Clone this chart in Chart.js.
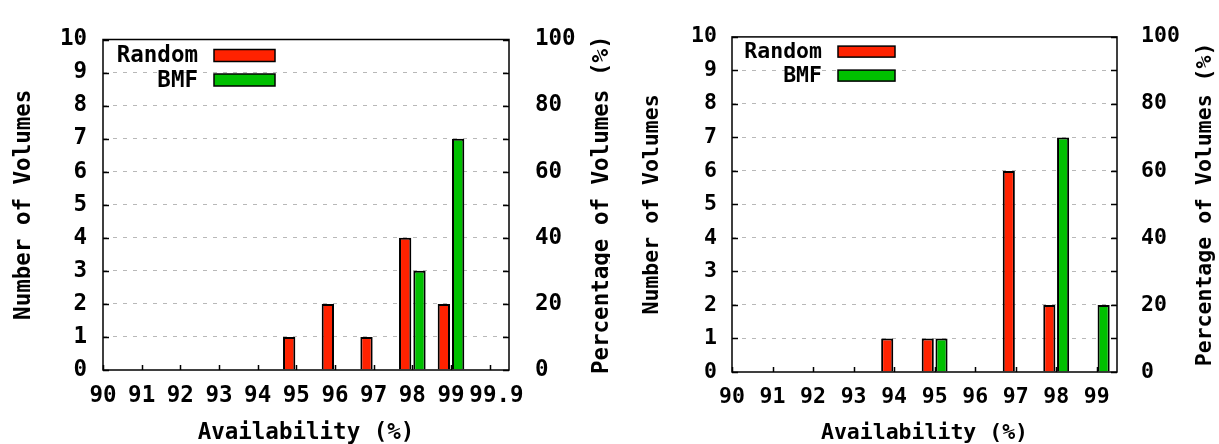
<!DOCTYPE html>
<html>
<head>
<meta charset="utf-8">
<script src="https://cdn.jsdelivr.net/npm/chart.js@4.4.0/dist/chart.umd.min.js"></script>
<style>
  html, body { margin: 0; padding: 0; background: #fff; }
  #wrap { position: relative; width: 1219px; height: 444px; }
  canvas { position: absolute; top: 0; }
</style>
</head>
<body>
<div id="wrap">
  <canvas id="chartLeft" width="610" height="444" style="left:0"></canvas>
  <canvas id="chartRight" width="609" height="444" style="left:610px"></canvas>
</div>
<script>
// data
const seriesNames = ["Random", "BMF"];
const seriesColors = ["#ff2200", "#00c000"];

const leftCategories = ["90", "91", "92", "93", "94", "95", "96", "97", "98", "99", "99.9"];
const leftRandom = [0, 0, 0, 0, 0, 1, 2, 1, 4, 2, 0];
const leftBMF = [0, 0, 0, 0, 0, 0, 0, 0, 3, 7, 0];

const rightCategories = ["90", "91", "92", "93", "94", "95", "96", "97", "98", "99"];
const rightRandom = [0, 0, 0, 0, 1, 1, 0, 6, 2, 0];
const rightBMF = [0, 0, 0, 0, 0, 1, 0, 0, 7, 2];

const countMax = 10;
const pctMax = 100;
const pctStep = 20;

const xTitle = "Availability (%)";
const yTitle = "Number of Volumes";
const y2Title = "Percentage of Volumes (%)";

const FONT = "'DejaVu Sans Mono', monospace";

// border, inward ticks, legend inside the plot and the right-hand title
const framePlugin = {
  id: "frame",
  afterDatasetsDraw(chart, args, opts) {
    const ctx = chart.ctx;
    const a = chart.chartArea;
    const xs = chart.scales.x;
    const ys = chart.scales.y;
    ctx.save();
    ctx.strokeStyle = "#000";
    ctx.lineWidth = 1.5;
    ctx.beginPath();
    ys.ticks.forEach(t => {
      const py = Math.round(ys.getPixelForValue(t.value)) + 0.5;
      ctx.moveTo(a.left, py); ctx.lineTo(a.left + 6, py);
      ctx.moveTo(a.right, py); ctx.lineTo(a.right - 6, py);
    });
    xs.ticks.forEach(t => {
      const px = Math.round(xs.getPixelForValue(t.value)) + 0.5;
      ctx.moveTo(px, a.bottom); ctx.lineTo(px, a.bottom - 5);
    });
    ctx.stroke();
    ctx.strokeRect(a.left, a.top, a.right - a.left, a.bottom - a.top);

    // legend: text first, then the swatch
    const lg = opts.legend;
    ctx.font = "bold " + opts.fontSize + "px " + FONT;
    ctx.textAlign = "right";
    ctx.textBaseline = "middle";
    chart.data.datasets.forEach((ds, i) => {
      const cy = a.top + lg.rows[i];
      ctx.fillStyle = "#000";
      ctx.fillText(ds.label, a.left + lg.textRight, cy + 1);
      ctx.fillStyle = ds.backgroundColor;
      ctx.fillRect(a.left + lg.boxLeft, cy - lg.boxH / 2, lg.boxW, lg.boxH);
      ctx.lineWidth = 1.5;
      ctx.strokeRect(a.left + lg.boxLeft, cy - lg.boxH / 2, lg.boxW, lg.boxH);
    });

    // right axis title, reads bottom to top
    ctx.translate(a.right + opts.titleOffset, (a.top + a.bottom) / 2);
    ctx.rotate(-Math.PI / 2);
    ctx.textAlign = "center";
    ctx.fillStyle = "#000";
    ctx.fillText(opts.rightTitle, 0, 0);
    ctx.restore();
  }
};

function makeChart(id, categories, randomVals, bmfVals, lay) {
  const toPoints = vals => vals.map((v, i) => ({ x: i, y: v }));
  const font = { family: FONT, size: lay.fontSize, weight: "bold" };
  // a label longer than its neighbours sits a little to the right, as in the source
  const tickLabel = v => (categories[v].length > 2 ? " " : "") + categories[v];
  return new Chart(document.getElementById(id), {
    type: "bar",
    data: {
      datasets: [
        { label: seriesNames[0], data: toPoints(randomVals), backgroundColor: seriesColors[0],
          borderColor: "#000", borderWidth: 2, borderSkipped: "start",
          categoryPercentage: lay.catPct, barPercentage: lay.barPct },
        { label: seriesNames[1], data: toPoints(bmfVals), backgroundColor: seriesColors[1],
          borderColor: "#000", borderWidth: 2, borderSkipped: "start",
          categoryPercentage: lay.catPct, barPercentage: lay.barPct }
      ]
    },
    options: {
      responsive: false,
      animation: false,
      layout: { padding: { top: lay.top, left: 0, right: 0, bottom: 0 } },
      plugins: {
        legend: { display: false },
        tooltip: { enabled: false },
        frame: {
          fontSize: lay.fontSize,
          rightTitle: y2Title,
          titleOffset: lay.titleOffset,
          legend: lay.legend
        }
      },
      scales: {
        x: {
          type: "linear",
          offset: false,
          min: 0,
          max: categories.length - 0.5,
          afterBuildTicks: s => { s.ticks = categories.map((c, i) => ({ value: i })); },
          afterFit: s => { s.height = lay.xHeight; },
          grid: { display: false, drawTicks: false },
          border: { display: false },
          ticks: {
            color: "#000", font: font, padding: lay.xPad, maxRotation: 0, autoSkip: false,
            callback: tickLabel
          },
          title: { display: true, text: xTitle, color: "#000",
                   font: { family: FONT, size: lay.fontSize, weight: "bold", lineHeight: 1 },
                   padding: { top: 0, bottom: 0 } }
        },
        y: {
          position: "left",
          min: 0,
          max: countMax,
          afterFit: s => { s.width = lay.yWidth; },
          grid: {
            drawTicks: false,
            lineWidth: 1,
            color: c => (c.tick.value === 0 || c.tick.value === countMax) ? "rgba(0,0,0,0)" : "#b8b8b8"
          },
          border: { display: false, dash: [4, 6] },
          ticks: { stepSize: 1, color: "#000", font: font, padding: lay.yPad },
          title: { display: true, text: yTitle, color: "#000", font: font, padding: { top: lay.yTitlePad, bottom: 0 } }
        },
        y2: {
          position: "right",
          min: 0,
          max: pctMax,
          afterFit: s => { s.width = lay.y2Width; },
          grid: { display: false, drawTicks: false },
          border: { display: false },
          ticks: { stepSize: pctStep, color: "#000", font: font, padding: lay.y2Pad }
        }
      }
    },
    plugins: [framePlugin]
  });
}

makeChart("chartLeft", leftCategories, leftRandom, leftBMF, {
  fontSize: 22.5, top: 15, xHeight: 74, yWidth: 103, y2Width: 101,
  xPad: 13, yPad: 16, y2Pad: 26, yTitlePad: 11, titleOffset: 93,
  catPct: 0.74, barPct: 0.86,
  legend: { textRight: 95, boxLeft: 111, boxW: 61, boxH: 12, rows: [16, 40.5] }
});

makeChart("chartRight", rightCategories, rightRandom, rightBMF, {
  fontSize: 21.5, top: 27, xHeight: 72, yWidth: 122, y2Width: 102,
  xPad: 13, yPad: 15, y2Pad: 24, yTitlePad: 30, titleOffset: 88.5,
  catPct: 0.68, barPct: 0.88,
  legend: { textRight: 90, boxLeft: 106, boxW: 57, boxH: 11, rows: [14.7, 38.7] }
});
</script>
</body>
</html>
